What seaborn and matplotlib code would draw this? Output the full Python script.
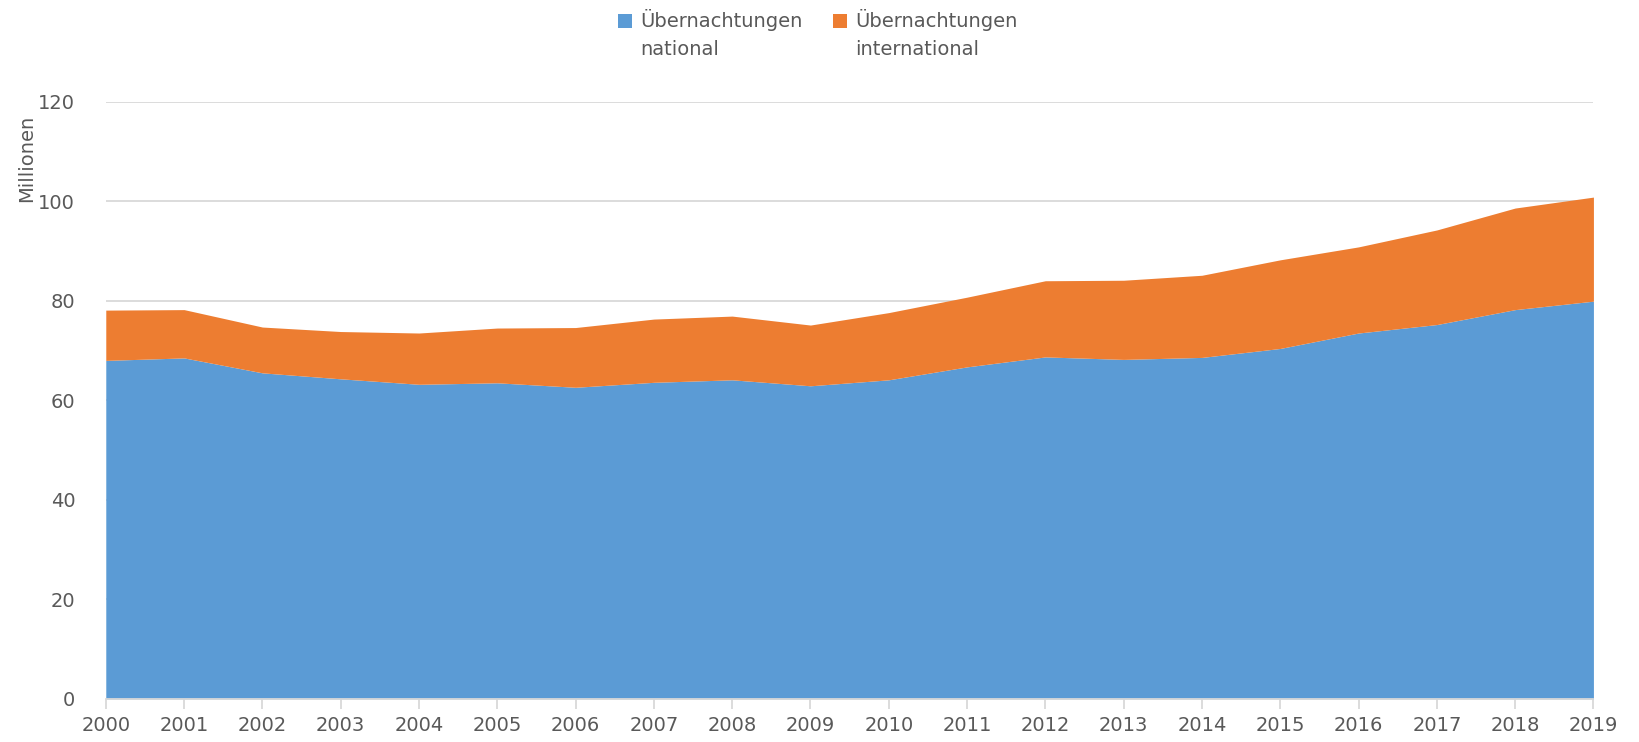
import matplotlib
matplotlib.use("Agg")
import matplotlib.pyplot as plt
import seaborn as sns
import numpy as np
import pandas as pd
from matplotlib.patches import Patch, Rectangle
from matplotlib.legend_handler import HandlerPatch

years = list(range(2000, 2020))
national = [68.0, 68.5, 65.5, 64.3, 63.2, 63.5, 62.6, 63.6, 64.1, 62.9,
            64.1, 66.7, 68.7, 68.2, 68.6, 70.4, 73.5, 75.2, 78.2, 79.9]
international = [10.1, 9.7, 9.2, 9.5, 10.3, 11.0, 12.0, 12.7, 12.8, 12.2,
                 13.5, 14.0, 15.3, 15.9, 16.5, 17.8, 17.3, 19.0, 20.4, 20.9]
series_labels = ["Übernachtungen\nnational", "Übernachtungen\ninternational"]
colors = ["#5B9BD5", "#ED7D31"]
yticks = [0, 20, 40, 60, 80, 100, 120]

sns.set_theme(style="white")
plt.rcParams["font.family"] = ["DejaVu Sans"]
txt = "#595959"
fs = 14

df = pd.DataFrame({"Jahr": years, "national": national, "international": international})

fig = plt.figure(figsize=(16.4, 7.42), dpi=100)
ax = fig.add_axes([0.0645, 0.058, 0.9071, 0.8052])

ax.stackplot(df["Jahr"], df["national"], df["international"],
             colors=colors, linewidth=0, zorder=2)

ax.set_xlim(years[0], years[-1])
ax.set_ylim(0, 120)
ax.set_yticks(yticks)
ax.set_xticks(years)
ax.set_xticklabels([str(y) for y in years])
ax.yaxis.grid(True, color="#D9D9D9", linewidth=1.3, zorder=0)
ax.xaxis.grid(False)
ax.set_axisbelow(True)
for s in ["top", "right", "left"]:
    ax.spines[s].set_visible(False)
ax.spines["bottom"].set_color("#D9D9D9")
ax.spines["bottom"].set_linewidth(1.3)
ax.spines["bottom"].set_zorder(3)
ax.tick_params(axis="x", which="major", bottom=True, length=7, width=1.3,
               color="#D9D9D9", direction="out", pad=5, labelsize=fs, labelcolor=txt)
ax.tick_params(axis="y", left=False, pad=16, labelsize=fs, labelcolor=txt)

ax.set_ylabel("Millionen", fontsize=fs, color=txt)
ax.yaxis.set_label_coords(-0.047, 0.904)


def top_square(legend, orig_handle, xdescent, ydescent, width, height, fontsize):
    return Rectangle((-xdescent, -ydescent + 0.68 * fontsize), width, height)


handles = [Patch(facecolor=c, edgecolor="none") for c in colors]
leg = fig.legend(handles, series_labels, loc="upper center", ncol=2,
                 bbox_to_anchor=(0.4985, 1.012), frameon=False, fontsize=fs,
                 handlelength=0.75, handleheight=0.75, handletextpad=0.4,
                 columnspacing=1.55, labelcolor=txt,
                 handler_map={Patch: HandlerPatch(patch_func=top_square)})
for t in leg.get_texts():
    t.set_linespacing(1.6)

fig.savefig("out.png", dpi=100)
